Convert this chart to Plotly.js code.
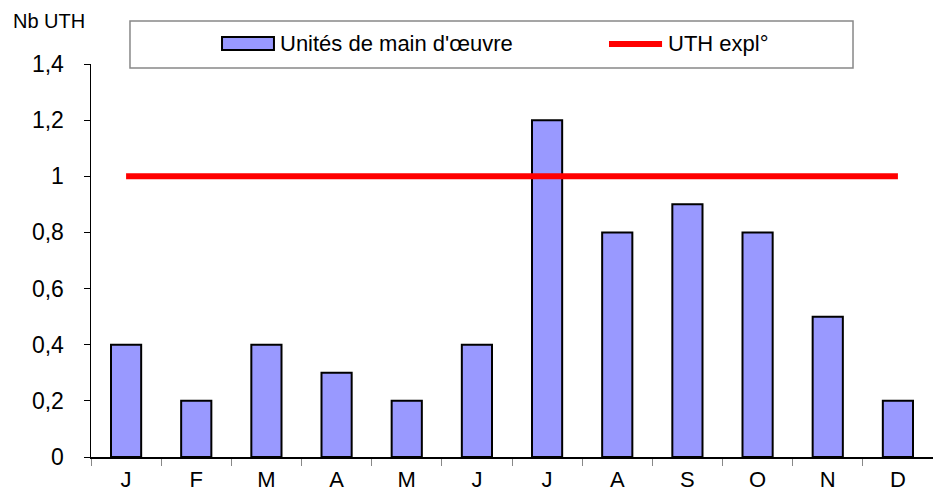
<!DOCTYPE html>
<html><head><meta charset="utf-8">
<script src="https://cdn.plot.ly/plotly-3.0.1.min.js"></script>
<style>body{margin:0;padding:0;background:#fff}#c{width:933px;height:496px}</style>
</head><body><div id="c"></div>
<script>
const months = ["J","F","M","A","M ","J ","J  ","A ","S","O","N","D"];
const monthLabels = ["J","F","M","A","M","J","J","A","S","O","N","D"];
const uniteValues = [0.4,0.2,0.4,0.3,0.2,0.4,1.2,0.8,0.9,0.8,0.5,0.2];
const uthExpl = [1,1,1,1,1,1,1,1,1,1,1,1];
const yTicks = [0,0.2,0.4,0.6,0.8,1,1.2,1.4];
const seriesNames = ["Unités de main d'œuvre", "UTH expl°"];

const traces = [
  {type:'bar', x:months, y:uniteValues, name:seriesNames[0],
   marker:{color:'#9999FF', line:{color:'#000', width:2}}, width:0.43},
  {type:'scatter', mode:'lines', x:months, y:uthExpl, name:seriesNames[1],
   line:{color:'#FF0000', width:6}}
];
const layout = {
  width:933, height:496,
  margin:{l:91, r:0, t:64, b:39},
  separators:', ',
  showlegend:false,
  font:{family:'"Liberation Sans", Arial, sans-serif', color:'#000', size:20},
  xaxis:{type:'category', tickvals:months, ticktext:monthLabels, ticks:'outside', tickson:'boundaries',
    ticklen:7, tickcolor:'#888', showline:true, linecolor:'#000', linewidth:1.5,
    showgrid:false, zeroline:false, fixedrange:true, tickfont:{size:22}, ticklabelstandoff:2},
  yaxis:{range:[0,1.4], tickvals:yTicks, ticks:'outside', ticklen:6, tickcolor:'#000',
    showline:true, linecolor:'#000', linewidth:1.5, showgrid:false, zeroline:false, tickfont:{size:23},
    ticklabelstandoff:15},
  shapes:[
    {type:'rect', xref:'paper', yref:'paper', x0:0.0463, x1:0.905, y0:0.9898, y1:1.1094,
     line:{color:'#888', width:1.5}, fillcolor:'rgba(0,0,0,0)', layer:'below'},
    {type:'rect', xref:'paper', yref:'paper', x0:0.1556, x1:0.2173, y0:1.0356, y1:1.0687,
     line:{color:'#000', width:2}, fillcolor:'#9999FF'},
    {type:'line', xref:'paper', yref:'paper', x0:0.6152, x1:0.6782, y0:1.0509, y1:1.0509,
     line:{color:'#FF0000', width:6}}
  ],
  annotations:[
    {text:'Nb UTH', xref:'paper', yref:'paper', x:-0.095, y:1.11, xanchor:'left', yanchor:'middle',
     showarrow:false, font:{size:20}},
    {text:seriesNames[0], xref:'paper', yref:'paper', x:0.2221, y:1.0509, xanchor:'left', yanchor:'middle',
     showarrow:false, font:{size:22}},
    {text:seriesNames[1], xref:'paper', yref:'paper', x:0.6829, y:1.0509, xanchor:'left', yanchor:'middle',
     showarrow:false, font:{size:22}}
  ],
  plot_bgcolor:'#fff', paper_bgcolor:'#fff'
};
Plotly.newPlot('c', traces, layout, {displayModeBar:false, staticPlot:true});
</script></body></html>
